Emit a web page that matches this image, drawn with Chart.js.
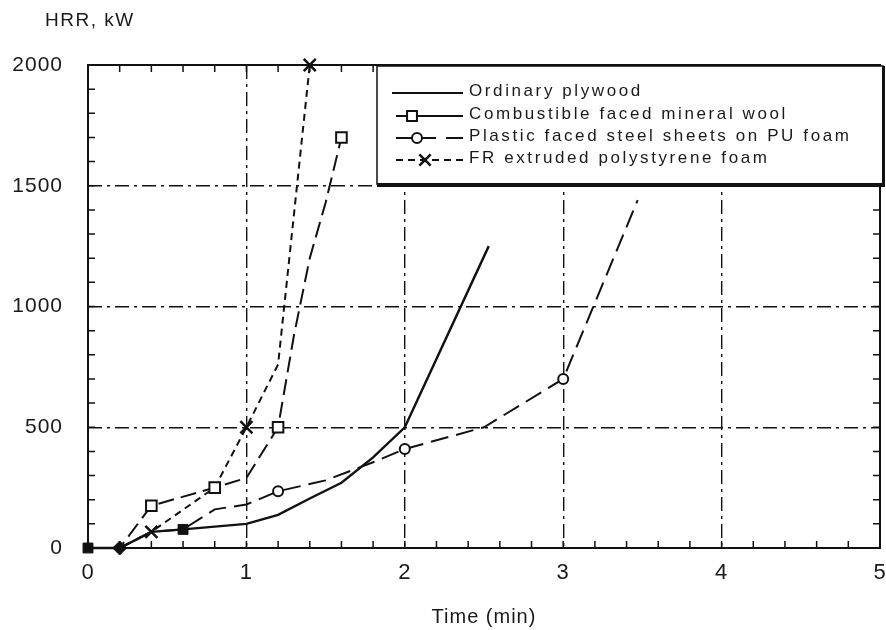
<!DOCTYPE html>
<html>
<head>
<meta charset="utf-8">
<script src="https://cdn.jsdelivr.net/npm/chart.js@4.4.1/dist/chart.umd.min.js"></script>
<style>
  html, body { margin: 0; padding: 0; background: #fff; }
  #wrap { width: 886px; height: 630px; }
</style>
</head>
<body>
<div id="wrap"><canvas id="hrrChart" width="886" height="630"></canvas></div>
<script>
// Heat release rate curves (time in min, HRR in kW)
const seriesNames = [
  'Ordinary plywood',
  'Combustible faced mineral wool',
  'Plastic faced steel sheets on PU foam',
  'FR extruded polystyrene foam',
];

const plywoodTime = [0, 0.2, 0.4, 0.6, 1.0, 1.2, 1.4, 1.6, 1.8, 2.0, 2.53];
const plywoodHRR  = [0, 0, 67, 77, 100, 137, 205, 270, 375, 500, 1250];
const plywoodMarks = [0, 0.2, 0.6];

const woolTime = [0, 0.2, 0.4, 0.8, 1.0, 1.2, 1.3, 1.4, 1.5, 1.6];
const woolHRR  = [0, 0, 175, 250, 290, 500, 880, 1200, 1430, 1700];
const woolMarks = [0.4, 0.8, 1.2, 1.6];

const plasticTime = [0, 0.2, 0.4, 0.6, 0.8, 1.0, 1.2, 1.5, 1.8, 2.0, 2.5, 3.0, 3.47];
const plasticHRR  = [0, 0, 67, 77, 160, 180, 235, 280, 355, 410, 500, 700, 1440];
const plasticMarks = [1.2, 2.0, 3.0];

const foamTime = [0, 0.2, 0.4, 0.8, 1.0, 1.2, 1.4];
const foamHRR  = [0, 0, 67, 250, 500, 760, 2000];
const foamMarks = [0.4, 1.0, 1.4];

const timeTicks = [0, 1, 2, 3, 4, 5];
const hrrTicks  = [0, 500, 1000, 1500, 2000];

const FONT = "'Liberation Sans', Arial, Helvetica, sans-serif";
const INK = '#111';
const GRID_DASH = [14, 5, 3, 5];

const pts = (xs, ys) => xs.map((x, i) => ({ x, y: ys[i] }));
const markAt = (list, r) => (ctx) => (ctx.raw && list.includes(ctx.raw.x) ? r : 0);

const datasets = [
  {
    label: seriesNames[0],
    data: pts(plywoodTime, plywoodHRR),
    borderColor: INK, borderWidth: 2.4, borderDash: [],
    pointStyle: (ctx) => (ctx.raw && ctx.raw.x === 0.2 ? 'rectRot' : 'rect'),
    pointRadius: markAt(plywoodMarks, 7),
    pointBackgroundColor: INK, pointBorderColor: INK, pointBorderWidth: 1,
    legendMark: null,
  },
  {
    label: seriesNames[1],
    data: pts(woolTime, woolHRR),
    borderColor: INK, borderWidth: 2, borderDash: [16, 7],
    pointStyle: 'rect',
    pointRadius: markAt(woolMarks, 7.5),
    pointBackgroundColor: '#fff', pointBorderColor: INK, pointBorderWidth: 2,
    legendMark: { style: 'rect', radius: 7, at: 412, dash: [] },
  },
  {
    label: seriesNames[2],
    data: pts(plasticTime, plasticHRR),
    borderColor: INK, borderWidth: 2, borderDash: [18, 8],
    pointStyle: 'circle',
    pointRadius: markAt(plasticMarks, 5),
    pointBackgroundColor: '#fff', pointBorderColor: INK, pointBorderWidth: 2,
    legendMark: { style: 'circle', radius: 5, at: 417, dash: [40, 10] },
  },
  {
    label: seriesNames[3],
    data: pts(foamTime, foamHRR),
    borderColor: INK, borderWidth: 2, borderDash: [7, 5],
    pointStyle: 'crossRot',
    pointRadius: markAt(foamMarks, 8.5),
    pointBackgroundColor: INK, pointBorderColor: INK, pointBorderWidth: 2.5,
    legendMark: { style: 'crossRot', radius: 8, at: 425, dash: [7, 5] },
  },
];

// frame, inward minor ticks and the "HRR, kW" heading
const framePlugin = {
  id: 'frame',
  beforeDraw(chart) {
    chart.ctx.letterSpacing = '1px';
  },
  afterDatasetsDraw(chart) {
    const { ctx, chartArea: a, scales: { x, y } } = chart;
    ctx.save();
    ctx.strokeStyle = INK;
    ctx.setLineDash([]);
    ctx.lineWidth = 1.5;
    ctx.beginPath();
    for (let t = 0; t <= 50; t += 2) {
      const px = x.getPixelForValue(t / 10);
      ctx.moveTo(px, a.bottom); ctx.lineTo(px, a.bottom - 7);
      ctx.moveTo(px, a.top); ctx.lineTo(px, a.top + 7);
    }
    for (let v = 0; v <= 2000; v += 100) {
      const py = y.getPixelForValue(v);
      ctx.moveTo(a.left, py); ctx.lineTo(a.left + 7, py);
      ctx.moveTo(a.right, py); ctx.lineTo(a.right - 7, py);
    }
    ctx.stroke();
    ctx.lineWidth = 2;
    ctx.strokeRect(a.left, a.top, a.right - a.left, a.bottom - a.top);

    ctx.fillStyle = '#1a1a1a';
    ctx.font = '19px ' + FONT;
    ctx.letterSpacing = '1.5px';
    ctx.textAlign = 'left';
    ctx.textBaseline = 'middle';
    ctx.fillText('HRR, kW', 45, 21);
    ctx.restore();
  },
};

// boxed legend in the upper right corner of the plot
const legendPlugin = {
  id: 'boxLegend',
  afterDraw(chart) {
    const ctx = chart.ctx;
    const x0 = 377, y0 = 66, x1 = 883, y1 = 184;
    ctx.save();
    ctx.setLineDash([]);
    ctx.fillStyle = '#fff';
    ctx.fillRect(x0, y0, x1 - x0, y1 - y0);
    ctx.strokeStyle = INK;
    ctx.lineWidth = 1.5;
    ctx.strokeRect(x0, y0, x1 - x0, y1 - y0);
    ctx.fillStyle = INK;
    ctx.fillRect(x0, y1 - 1, x1 - x0 + 2, 4);
    ctx.fillRect(x1 - 1, y0, 3, y1 - y0 + 2);

    const rows = [91, 114, 136, 158];
    chart.data.datasets.forEach((ds, i) => {
      const ry = rows[i];
      const ly = ry + 2;
      const m = ds.legendMark;
      ctx.strokeStyle = INK;
      ctx.lineWidth = 2;
      ctx.setLineDash(m ? m.dash : []);
      ctx.beginPath();
      ctx.moveTo(m ? 396 : 392, ly);
      ctx.lineTo(463, ly);
      ctx.stroke();
      ctx.setLineDash([]);
      if (m) {
        ctx.fillStyle = m.style === 'crossRot' ? INK : '#fff';
        ctx.strokeStyle = INK;
        ctx.lineWidth = m.style === 'crossRot' ? 2.5 : 2;
        Chart.helpers.drawPoint(ctx, { pointStyle: m.style, radius: m.radius, rotation: 0, borderWidth: ctx.lineWidth }, m.at, ly);
      }
      ctx.fillStyle = '#1a1a1a';
      ctx.font = '17px ' + FONT;
      ctx.letterSpacing = '2.6px';
      ctx.textAlign = 'left';
      ctx.textBaseline = 'middle';
      ctx.fillText(ds.label, 469, ry);
    });
    ctx.restore();
  },
};

const gridOpts = { color: INK, lineWidth: 1.4, drawTicks: false };

new Chart(document.getElementById('hrrChart'), {
  type: 'line',
  data: { datasets },
  options: {
    responsive: false,
    devicePixelRatio: 1,
    animation: false,
    clip: false,
    layout: { autoPadding: false, padding: { top: 65, right: 6, left: 0, bottom: 0 } },
    elements: { line: { tension: 0, fill: false } },
    plugins: { legend: { display: false }, tooltip: { enabled: false } },
    scales: {
      x: {
        type: 'linear', min: 0, max: 5,
        afterBuildTicks: (s) => { s.ticks = timeTicks.map((v) => ({ value: v })); },
        afterFit: (s) => { s.height = 82; s.paddingLeft = 0; s.paddingRight = 0; },
        grid: gridOpts,
        border: { display: false, dash: GRID_DASH },
        ticks: { padding: 12, color: '#1a1a1a', font: { family: FONT, size: 22 }, callback: (v) => String(v) },
        title: {
          display: true, text: 'Time (min)', color: '#1a1a1a',
          font: { family: FONT, size: 20 }, padding: { top: 0, bottom: 1 },
        },
      },
      y: {
        type: 'linear', min: 0, max: 2000,
        afterBuildTicks: (s) => { s.ticks = hrrTicks.map((v) => ({ value: v })); },
        afterFit: (s) => { s.width = 88; },
        grid: gridOpts,
        border: { display: false, dash: GRID_DASH },
        ticks: { padding: 25, color: '#1a1a1a', font: { family: FONT, size: 21 }, callback: (v) => String(v) },
      },
    },
  },
  plugins: [framePlugin, legendPlugin],
});
</script>
</body>
</html>
